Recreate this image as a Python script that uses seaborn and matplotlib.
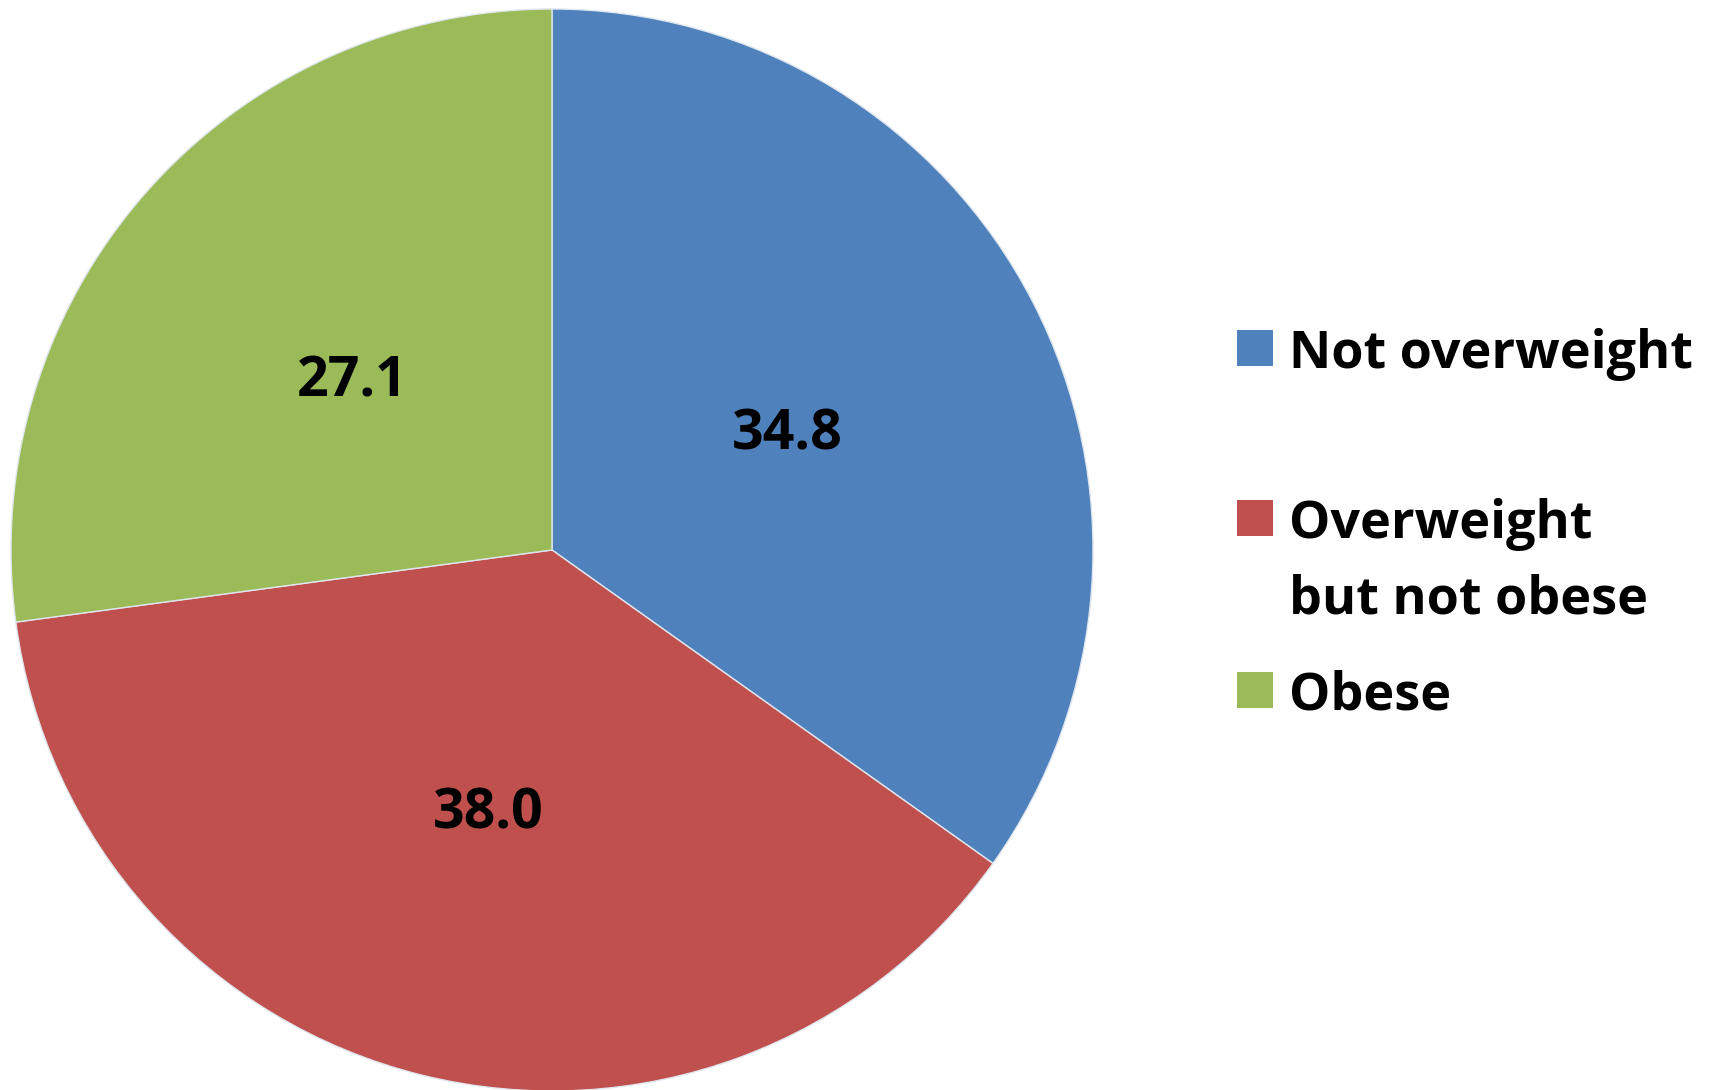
import matplotlib
matplotlib.use("Agg")
import matplotlib.pyplot as plt
import seaborn as sns
from matplotlib.patches import Rectangle

categories = ["Not overweight", "Overweight\nbut not obese", "Obese"]
values = [34.8, 38.0, 27.1]
colors = sns.color_palette(["#4F81BD", "#C0504D", "#9BBB59"])

sns.set_theme(style="white")
plt.rcParams["font.family"] = ["Open Sans", "DejaVu Sans"]
plt.rcParams["text.color"] = "black"

W, H = 1710, 1090
fig = plt.figure(figsize=(W / 100, H / 100), dpi=100)
fig.patch.set_facecolor("white")

# pie centre ~ (552, 550) px, radius ~541 px
cx, cy, r = 552, 550, 541
ax = fig.add_axes([(cx - r) / W, (H - cy - r) / H, 2 * r / W, 2 * r / H])
ax.pie(values, colors=colors, startangle=90, counterclock=False,
       autopct=lambda p: "", pctdistance=0.49, radius=1,
       wedgeprops=dict(edgecolor="#dfe6ee", linewidth=1))
# value labels (the data values themselves, not percentages)
for t, v in zip(ax.texts[1::2], values):
    t.set_text(f"{v:.1f}")
    t.set_fontsize(40)
    t.set_fontweight("bold")
    t.set_color("black")
    x, y = t.get_position()
    t.set_position((x, y - 0.012))
ax.set_xlim(-1, 1)
ax.set_ylim(-1, 1)
ax.set_aspect("equal")
ax.axis("off")

# legend drawn Excel-style: square aligned with the first text line
rows_y = [348, 518, 690]
sq = 36
for y, lab, c in zip(rows_y, categories, colors):
    fig.add_artist(Rectangle((1237 / W, (H - y - sq / 2) / H), sq / W, sq / H,
                             transform=fig.transFigure, facecolor=c, edgecolor="none"))
    lines = lab.split("\n")
    for i, line in enumerate(lines):
        fig.text(1289 / W, (H - y - 75 * i) / H, line, fontsize=37.5,
                 fontweight="bold", color="black", va="center_baseline", ha="left")

fig.savefig("out.png", dpi=100, facecolor="white")
